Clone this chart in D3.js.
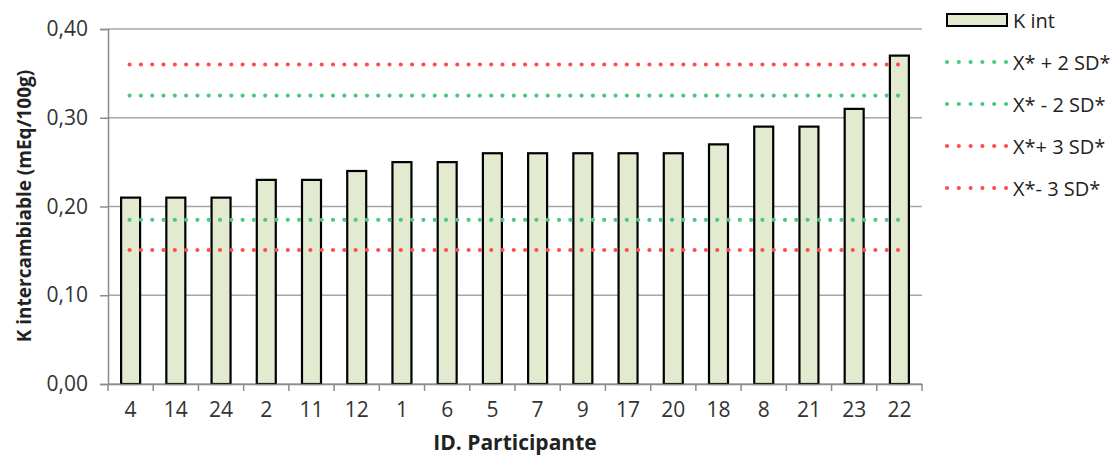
<!DOCTYPE html>
<html><head><meta charset="utf-8">
<script src="https://cdn.jsdelivr.net/npm/d3@7"></script>
<style>body{margin:0;background:#fff}text{font-family:"Open Sans",sans-serif}</style>
</head><body>
<svg id="c" width="1120" height="457"></svg>
<script>
const categories = ["4","14","24","2","11","12","1","6","5","7","9","17","20","18","8","21","23","22"];
const values = [0.21,0.21,0.21,0.23,0.23,0.24,0.25,0.25,0.26,0.26,0.26,0.26,0.26,0.27,0.29,0.29,0.31,0.37];
const refNames = ["X* + 2 SD*","X* - 2 SD*","X*+ 3 SD*","X*- 3 SD*"];
const refValues = [0.325,0.185,0.36,0.151];
const refColors = ["#4cc97f","#4cc97f","#ff4d4d","#ff4d4d"];
const yTicks = [0,0.1,0.2,0.3,0.4];

const svg = d3.select("#c");
const L=108,R=922,T=29,B=384;
const x = d3.scaleBand().domain(categories).range([L,R]).paddingInner(0.58).paddingOuter(0.29);
const xb = d3.scaleBand().domain(categories).range([L,R]);
const y = d3.scaleLinear().domain([0,0.4]).range([B,T]);
const fmt = d=>d3.format(".2f")(d).replace(".",",");

svg.append("g").selectAll("line").data(yTicks).join("line")
 .attr("x1",L).attr("x2",R).attr("y1",d=>y(d)).attr("y2",d=>y(d))
 .attr("stroke","#a6a6a6").attr("stroke-width",1.5);
const ya = svg.append("g").attr("transform",`translate(${L},0)`)
 .call(d3.axisLeft(y).tickValues(yTicks).tickFormat(fmt).tickSize(8).tickPadding(12));
ya.select(".domain").attr("stroke","#8c8c8c").attr("stroke-width",1.5);
ya.selectAll(".tick line").attr("stroke","#8c8c8c").attr("stroke-width",1.5);
ya.selectAll("text").attr("font-size",21).attr("fill","#333").attr("font-family","Open Sans");

svg.append("g").selectAll("rect").data(values).join("rect")
 .attr("x",(d,i)=>x(categories[i])).attr("width",x.bandwidth())
 .attr("y",d=>y(d)).attr("height",d=>B-y(d))
 .attr("fill","#e2eacf").attr("stroke","#000").attr("stroke-width",2.2);

const xa = svg.append("g").attr("transform",`translate(0,${B})`)
 .call(d3.axisBottom(xb).tickSize(0).tickPadding(18));
xa.select(".domain").attr("stroke","#8c8c8c").attr("stroke-width",1.5);
xa.selectAll("text").attr("font-size",21).attr("fill","#333").attr("font-family","Open Sans");
svg.append("g").selectAll("line").data(d3.range(categories.length+1)).join("line")
 .attr("x1",i=>L+i*xb.step()).attr("x2",i=>L+i*xb.step())
 .attr("y1",B).attr("y2",B+7).attr("stroke","#8c8c8c").attr("stroke-width",1.5);

const x0 = xb(categories[0])+xb.bandwidth()/2, x1 = xb(categories[categories.length-1])+xb.bandwidth()/2;
svg.append("g").selectAll("line").data(refValues).join("line")
 .attr("x1",x0-1).attr("x2",x1+1).attr("y1",d=>y(d)).attr("y2",d=>y(d))
 .attr("stroke",(d,i)=>refColors[i]).attr("stroke-width",4.2)
 .attr("stroke-linecap","round").attr("stroke-dasharray","0 11.3");

svg.append("text").attr("x",515).attr("y",450).attr("text-anchor","middle")
 .attr("font-size",21).attr("font-weight","bold").attr("fill","#222").text("ID. Participante");
svg.append("text").attr("transform","translate(31,206) rotate(-90)").attr("text-anchor","middle")
 .attr("font-size",19).attr("font-weight","bold").attr("fill","#222").text("K intercambiable  (mEq/100g)");

const lg = svg.append("g");
lg.append("rect").attr("x",947).attr("y",14).attr("width",60).attr("height",12)
 .attr("fill","#e2eacf").attr("stroke","#000").attr("stroke-width",2);
lg.append("text").attr("x",1013).attr("y",28).attr("font-size",20).attr("fill","#222").attr("font-family","DejaVu Sans").text("K int");
const legY=[62,104,146,188];
[0,1,2,3].forEach((k,j)=>{
 lg.append("line").attr("x1",947).attr("x2",1007).attr("y1",legY[j]).attr("y2",legY[j])
  .attr("stroke",refColors[k]).attr("stroke-width",4.2).attr("stroke-linecap","round").attr("stroke-dasharray","0 11.8");
 lg.append("text").attr("x",1013).attr("y",legY[j]+8).attr("font-size",20).attr("fill","#222").attr("font-family","DejaVu Sans").text(refNames[k]);
});
</script>
</body></html>
